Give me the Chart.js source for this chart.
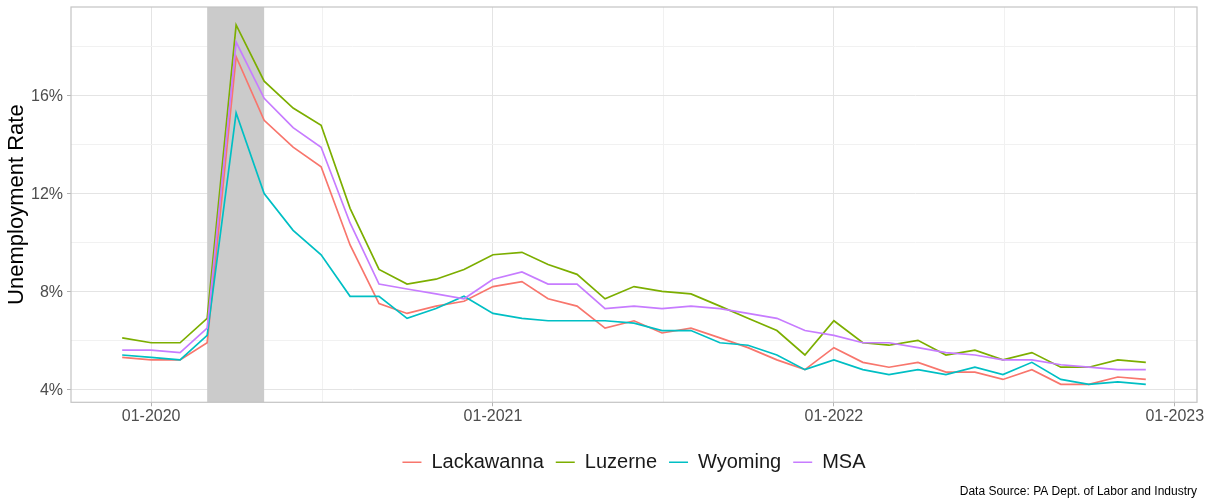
<!DOCTYPE html>
<html><head><meta charset="utf-8">
<script src="https://cdn.jsdelivr.net/npm/chart.js@4/dist/chart.umd.min.js"></script>
<style>html,body{margin:0;padding:0;background:#fff}</style>
</head><body>
<canvas id="c" width="1209" height="499" style="display:block;width:1209px;height:499px"></canvas>
<script>
// ---- data ----
const months = ['2019-12',
  '2020-01','2020-02','2020-03','2020-04','2020-05','2020-06','2020-07','2020-08','2020-09','2020-10','2020-11','2020-12',
  '2021-01','2021-02','2021-03','2021-04','2021-05','2021-06','2021-07','2021-08','2021-09','2021-10','2021-11','2021-12',
  '2022-01','2022-02','2022-03','2022-04','2022-05','2022-06','2022-07','2022-08','2022-09','2022-10','2022-11','2022-12'];
const lackawanna = [5.3,5.2,5.2,5.9,17.6,15.0,13.9,13.1,9.9,7.5,7.1,7.4,7.6,
  8.2,8.4,7.7,7.4,6.5,6.8,6.3,6.5,6.1,5.7,5.2,4.8,
  5.7,5.1,4.9,5.1,4.7,4.7,4.4,4.8,4.2,4.2,4.5,4.4];
const luzerne = [6.1,5.9,5.9,6.9,18.9,16.6,15.5,14.8,11.4,8.9,8.3,8.5,8.9,
  9.5,9.6,9.1,8.7,7.7,8.2,8.0,7.9,7.4,6.9,6.4,5.4,
  6.8,5.9,5.8,6.0,5.4,5.6,5.2,5.5,4.9,4.9,5.2,5.1];
const wyoming = [5.4,5.3,5.2,6.2,15.3,12.0,10.5,9.5,7.8,7.8,6.9,7.3,7.8,
  7.1,6.9,6.8,6.8,6.8,6.7,6.4,6.4,5.9,5.8,5.4,4.8,
  5.2,4.8,4.6,4.8,4.6,4.9,4.6,5.1,4.4,4.2,4.3,4.2];
const msa = [5.6,5.6,5.5,6.5,18.2,15.9,14.7,13.9,10.8,8.3,8.1,7.9,7.7,
  8.5,8.8,8.3,8.3,7.3,7.4,7.3,7.4,7.3,7.1,6.9,6.4,
  6.2,5.9,5.9,5.7,5.5,5.4,5.2,5.2,5.0,4.9,4.8,4.8];
const seriesNames = ['Lackawanna','Luzerne','Wyoming','MSA'];
const seriesColors = ['#F8766D','#7CAE00','#00BFC4','#C77CFF'];
const recession = ['2020-03-01','2020-05-01'];
const xTickDates = ['2020-01-01','2021-01-01','2022-01-01','2023-01-01'];
const xTickLabels = ['01-2020','01-2021','01-2022','01-2023'];
const yTickValues = [4,8,12,16];
const yTickLabels = ['4%','8%','12%','16%'];
const yMinorValues = [6,10,14,18];
const yTitle = 'Unemployment Rate';
const caption = 'Data Source: PA Dept. of Labor and Industry';

// ---- helpers ----
function toTime(s){ const p = s.split('-').map(Number); return Date.UTC(p[0], p[1]-1, p[2]||1); }
const xs = months.map(toTime);
const seriesValues = [lackawanna, luzerne, wyoming, msa];
const xFirst = xs[0], xLast = xs[xs.length-1];
const xPad = 0.05*(xLast-xFirst);
const allY = seriesValues.flat();
const yLo = Math.min(...allY), yHi = Math.max(...allY), yPad = 0.05*(yHi-yLo);
const xMajor = xTickDates.map(toTime);
const xMinor = xMajor.slice(1).map((v,i)=> (v + xMajor[i])/2);

Chart.defaults.font.family = "'Liberation Sans', Arial, Helvetica, sans-serif";

const datasets = seriesNames.map((n,i)=>({
  label: n,
  data: xs.map((x,j)=>({x, y: seriesValues[i][j]})),
  borderColor: seriesColors[i],
  backgroundColor: seriesColors[i],
  borderWidth: 1.7,
  pointRadius: 0,
  tension: 0,
  order: seriesNames.length - i
}));

const panelPlugin = {
  id: 'panel',
  afterLayout(chart){
    const lg = chart.legend, a = chart.chartArea;
    if (lg) {
      const d = (a.left + a.right)/2 - (lg.left + lg.right)/2;
      lg.left += d; lg.right += d;
    }
  },
  beforeDatasetsDraw(chart){
    const {ctx, chartArea: a, scales: {x}} = chart;
    const x0 = x.getPixelForValue(toTime(recession[0]));
    const x1 = x.getPixelForValue(toTime(recession[1]));
    ctx.save();
    ctx.fillStyle = '#cbcbcb';
    ctx.fillRect(x0, a.top, x1 - x0, a.bottom - a.top);
    ctx.restore();
  },
  afterDatasetsDraw(chart){
    const {ctx, chartArea: a} = chart;
    ctx.save();
    ctx.strokeStyle = '#c4c4c4';
    ctx.lineWidth = 1.2;
    ctx.strokeRect(a.left, a.top, a.right - a.left, a.bottom - a.top);
    ctx.restore();
  }
};

new Chart(document.getElementById('c'), {
  type: 'line',
  data: { datasets },
  plugins: [panelPlugin],
  options: {
    responsive: false,
    animation: false,
    devicePixelRatio: 1,
    layout: { padding: { top: 7, right: 12, bottom: 0, left: 0 } },
    scales: {
      x: {
        type: 'linear',
        min: xFirst - xPad,
        max: xLast + xPad,
        afterBuildTicks: s => {
          s.ticks = xMajor.map(v=>({value:v})).concat(xMinor.map(v=>({value:v, minor:true})))
            .filter(t => t.value >= s.min && t.value <= s.max)
            .sort((a,b)=>a.value-b.value);
        },
        afterFit: s => { s.paddingLeft = 0; s.paddingRight = 0; s.height = 38; },
        ticks: {
          autoSkip: false, maxRotation: 0, padding: 1,
          color: '#4d4d4d', font: { size: 16 },
          callback: v => { const i = xMajor.indexOf(v); return i >= 0 ? xTickLabels[i] : ''; }
        },
        grid: {
          color: c => (c.tick && c.tick.minor) ? '#f1f1f1' : '#e4e4e4',
          tickColor: c => (c.tick && c.tick.minor) ? 'rgba(0,0,0,0)' : '#b3b3b3',
          tickLength: 4, lineWidth: 1
        },
        border: { display: false }
      },
      y: {
        type: 'linear',
        min: yLo - yPad,
        max: yHi + yPad,
        afterBuildTicks: s => {
          s.ticks = yTickValues.map(v=>({value:v})).concat(yMinorValues.map(v=>({value:v, minor:true})))
            .filter(t => t.value >= s.min && t.value <= s.max)
            .sort((a,b)=>a.value-b.value);
        },
        afterFit: s => { s.width = 71; s.paddingTop = 0; s.paddingBottom = 0; },
        ticks: {
          autoSkip: false, padding: 4, labelOffset: 1,
          color: '#4d4d4d', font: { size: 16 },
          callback: v => { const i = yTickValues.indexOf(v); return i >= 0 ? yTickLabels[i] : ''; }
        },
        grid: {
          color: c => (c.tick && c.tick.minor) ? '#f1f1f1' : '#e4e4e4',
          tickColor: c => (c.tick && c.tick.minor) ? 'rgba(0,0,0,0)' : '#b3b3b3',
          tickLength: 4, lineWidth: 1
        },
        border: { display: false },
        title: { display: true, text: yTitle, color: '#000', font: { size: 22 }, padding: { top: 4, bottom: 0 } }
      }
    },
    plugins: {
      legend: {
        position: 'bottom',
        labels: {
          boxWidth: 19, boxHeight: 1.5, padding: 12,
          color: '#1a1a1a', font: { size: 20 },
          sort: (a,b) => a.datasetIndex - b.datasetIndex,
          generateLabels: chart => Chart.defaults.plugins.legend.labels.generateLabels(chart).map(l => Object.assign(l, {lineWidth: 0}))
        }
      },
      title: {
        display: true, text: caption, position: 'bottom', align: 'end',
        color: '#000', font: { size: 12, weight: 'normal' },
        padding: { top: 2, bottom: 0.3 }
      },
      tooltip: { enabled: false }
    }
  }
});
</script>
</body></html>
